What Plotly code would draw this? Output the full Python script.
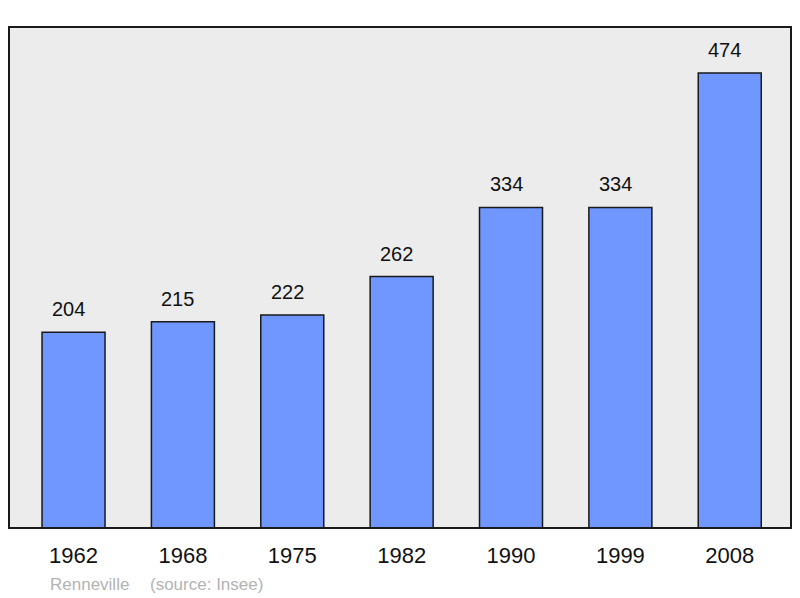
import plotly.graph_objects as go

years = ["1962", "1968", "1975", "1982", "1990", "1999", "2008"]
population = [204, 215, 222, 262, 334, 334, 474]
footer_place = "Renneville"
footer_source = "(source: Insee)"

xs = list(range(len(years)))
FONT = "Liberation Sans, Arial"

fig = go.Figure()
fig.add_trace(go.Bar(
    x=xs, y=population, width=0.576,
    marker=dict(color="#7096ff", line=dict(color="#1a1a1a", width=1.5)),
    hoverinfo="skip",
))

for x, v in zip(xs, population):
    fig.add_annotation(x=x, y=v, text=str(v), showarrow=False, yanchor="bottom",
                       yshift=10, xshift=-5, font=dict(family=FONT, size=20, color="#111"))

fig.add_annotation(xref="paper", yref="paper", x=0, y=0, xanchor="left", yanchor="middle",
                   xshift=39, yshift=-56, text=footer_place, showarrow=False,
                   font=dict(family=FONT, size=17, color="#b3b3b3"))
fig.add_annotation(xref="paper", yref="paper", x=0, y=0, xanchor="left", yanchor="middle",
                   xshift=139, yshift=-56, text=footer_source, showarrow=False,
                   font=dict(family=FONT, size=17, color="#b3b3b3"))

fig.add_shape(type="rect", xref="paper", yref="paper", x0=0, y0=0, x1=1, y1=1,
              line=dict(color="#1a1a1a", width=2), layer="above")

fig.update_layout(
    width=792, height=590,
    margin=dict(l=1, r=9, t=19, b=70),
    paper_bgcolor="white", plot_bgcolor="#ececec",
    showlegend=False,
    xaxis=dict(range=[-0.59, 6.56], tickvals=xs, ticktext=years, showgrid=False,
               zeroline=False, showline=False, ticks="", ticklen=0,
               ticklabelstandoff=12,
               tickfont=dict(family=FONT, size=22, color="#111")),
    yaxis=dict(range=[0, 522], showgrid=False, zeroline=False, showticklabels=False,
               showline=False),
)

fig.write_html("out.html")
